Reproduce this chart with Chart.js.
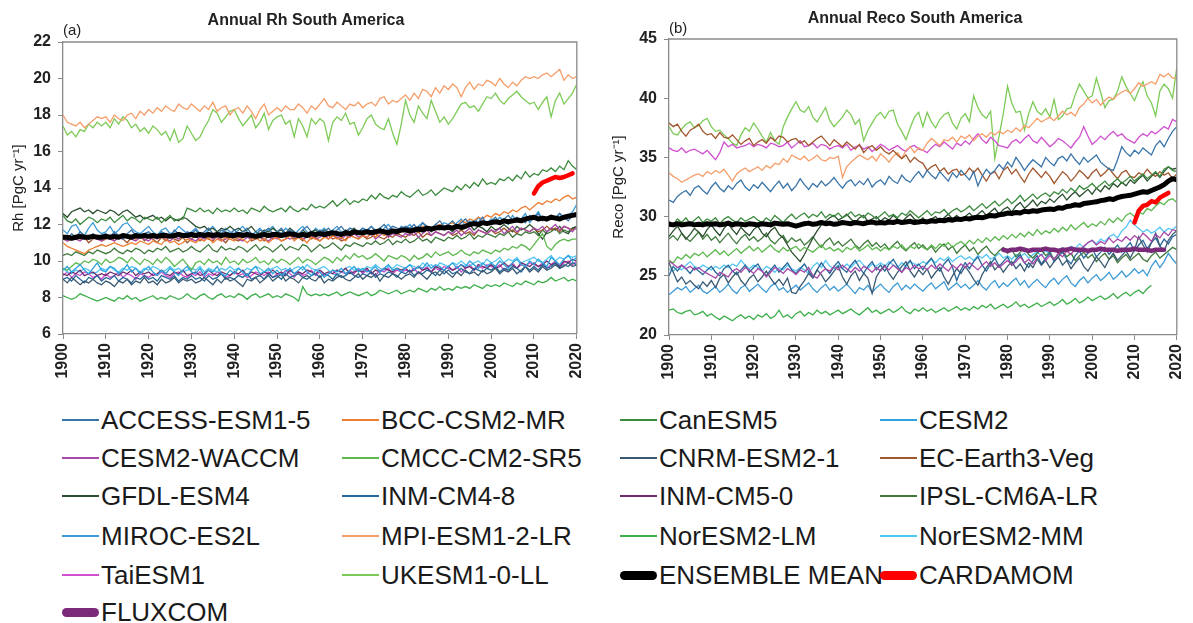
<!DOCTYPE html>
<html><head><meta charset="utf-8">
<script src="https://cdn.jsdelivr.net/npm/chart.js@4.4.1/dist/chart.umd.min.js"></script>
<style>
html,body{margin:0;padding:0;background:#fff;overflow:hidden;width:1193px;height:623px;}
#wrap{position:relative;width:1193px;height:623px;font-family:"Liberation Sans",Arial,sans-serif;overflow:hidden;}
canvas{position:absolute;top:0;}
.ttl{position:absolute;font-weight:bold;font-size:16px;color:#222;white-space:nowrap;transform:translateX(-50%);line-height:18px;}
.lab{position:absolute;font-size:15px;color:#222;line-height:16px;}
.lg{position:absolute;height:30px;display:flex;align-items:center;font-size:26px;color:#1a1a1a;white-space:nowrap;}
.sw{width:37px;margin-right:2px;}
</style></head>
<body><div id="wrap">
<canvas id="ca" width="600" height="395" style="left:0"></canvas>
<canvas id="cb" width="600" height="395" style="left:600px"></canvas>
<div class="ttl" style="left:306px;top:11px">Annual Rh South America</div>
<div class="lab" style="left:63px;top:22px">(a)</div>
<div class="ttl" style="left:915px;top:9px">Annual Reco South America</div>
<div class="lab" style="left:669px;top:20px">(b)</div>
<div id="legend"></div>
</div>
<script>
// ---------- categories ----------
const YEARS = [
1900,1901,1902,1903,1904,1905,1906,1907,1908,1909,
1910,1911,1912,1913,1914,1915,1916,1917,1918,1919,
1920,1921,1922,1923,1924,1925,1926,1927,1928,1929,
1930,1931,1932,1933,1934,1935,1936,1937,1938,1939,
1940,1941,1942,1943,1944,1945,1946,1947,1948,1949,
1950,1951,1952,1953,1954,1955,1956,1957,1958,1959,
1960,1961,1962,1963,1964,1965,1966,1967,1968,1969,
1970,1971,1972,1973,1974,1975,1976,1977,1978,1979,
1980,1981,1982,1983,1984,1985,1986,1987,1988,1989,
1990,1991,1992,1993,1994,1995,1996,1997,1998,1999,
2000,2001,2002,2003,2004,2005,2006,2007,2008,2009,
2010,2011,2012,2013,2014,2015,2016,2017,2018,2019,
2020];
const X_TICKS = [1900,1910,1920,1930,1940,1950,1960,1970,1980,1990,2000,2010,2020];
const RH_TICKS = [6,8,10,12,14,16,18,20,22];
const RECO_TICKS = [20,25,30,35,40,45];

// ---------- panel (a) Rh ----------
const rh_ACCESS = [
11.4,11.2,11.5,11.3,11.6,11.4,11.2,11.5,11.3,11.4,
11.5,11.3,11.6,11.4,11.2,11.5,11.7,11.4,11.3,11.5,
11.6,11.4,11.3,11.6,11.5,11.3,11.7,11.5,11.4,11.6,
11.5,11.7,11.4,11.6,11.8,11.5,11.4,11.7,11.6,11.5,
11.7,11.5,11.6,11.8,11.5,11.4,11.7,11.6,11.8,11.5,
11.6,11.8,11.5,11.7,11.6,11.4,11.7,11.9,11.6,11.5,
11.7,11.6,11.8,11.5,11.7,11.9,11.6,11.8,11.7,11.6,
11.8,11.7,11.9,11.6,11.8,12.0,11.7,11.9,11.8,11.7,
11.9,11.8,12.0,11.7,12.1,11.9,11.8,12.0,12.2,11.9,
12.0,12.2,11.9,12.1,12.3,12.0,12.2,12.1,12.4,12.0,
12.2,12.4,12.1,12.3,12.5,12.2,12.4,12.3,12.1,12.5,
12.3,12.6,12.2,12.4,12.5,12.3,12.6,12.4,12.2,12.5,
12.6];
const rh_BCC = [
11.0,10.8,10.7,10.6,10.5,10.4,10.6,10.7,10.8,10.9,
10.8,10.9,11.0,10.9,10.8,10.9,11.0,10.9,11.1,11.0,
10.9,11.1,11.0,10.9,11.2,11.0,11.1,10.9,11.0,11.2,
11.1,11.0,11.2,11.1,11.3,11.0,11.2,11.1,11.3,11.2,
11.1,11.3,11.2,11.0,11.2,11.3,11.1,11.2,11.0,11.2,
11.3,11.1,11.2,11.4,11.1,11.3,11.2,11.0,11.3,11.2,
11.1,11.3,11.2,11.4,11.2,11.3,11.1,11.4,11.3,11.2,
11.4,11.3,11.5,11.3,11.6,11.4,11.5,11.7,11.5,11.6,
11.7,11.6,11.8,11.7,11.9,11.8,11.7,11.9,12.0,11.9,
12.0,12.1,11.9,12.2,12.1,12.3,12.2,12.4,12.3,12.5,
12.4,12.6,12.5,12.7,12.6,12.8,12.7,12.9,13.0,12.8,
13.0,13.2,13.1,13.3,13.2,13.4,13.3,13.5,13.6,13.4,
13.5];
const rh_CanESM5 = [
12.5,12.2,12.1,12.3,12.0,12.2,12.4,12.3,12.1,12.3,
12.2,12.4,12.1,12.3,12.5,12.2,12.4,12.3,12.1,12.4,
12.3,12.2,12.4,12.1,12.3,12.5,12.2,12.3,12.3,12.9,
12.8,12.7,12.9,12.7,12.8,12.6,12.9,12.7,12.8,12.7,
12.9,12.7,12.8,12.6,12.9,12.8,12.7,13.0,12.8,12.7,
12.8,12.9,12.7,13.0,12.8,12.7,12.9,12.8,13.1,12.9,
13.0,12.9,13.1,13.3,13.0,13.2,13.4,13.1,13.3,13.2,
13.4,13.3,13.6,13.4,13.7,13.5,13.4,13.6,13.5,13.8,
13.6,13.5,13.7,13.9,13.6,13.7,13.9,13.6,13.8,14.0,
13.9,13.8,14.1,13.9,14.2,14.0,14.3,14.1,14.5,14.2,
14.3,14.2,14.5,14.4,14.6,14.4,14.7,14.5,14.9,14.6,
14.8,14.7,15.0,14.9,15.1,14.9,15.2,15.0,15.5,15.2,
15.0];
const rh_CESM2 = [
9.5,9.7,9.4,9.6,9.8,9.5,9.3,9.6,9.9,9.5,
9.4,9.7,9.6,9.3,9.5,9.8,9.4,9.6,9.3,9.5,
9.7,9.4,9.2,9.5,9.3,9.6,9.4,9.2,9.5,9.7,
9.4,9.3,9.6,9.2,9.5,9.4,9.7,9.3,9.2,9.5,
9.3,9.6,9.4,9.2,9.5,9.7,9.3,9.4,9.6,9.3,
9.5,9.2,9.4,9.6,9.3,9.5,9.7,9.4,9.2,9.5,
9.4,9.1,9.3,9.5,9.4,9.6,9.3,9.5,9.7,9.4,
9.6,9.4,9.5,9.7,9.4,9.6,9.8,9.5,9.6,9.4,
9.6,9.8,9.5,9.7,9.6,9.9,9.6,9.8,9.7,9.5,
9.7,9.9,9.6,9.8,9.7,10.0,9.8,9.6,9.9,9.7,
9.9,9.7,10.0,9.8,9.6,9.9,10.1,9.8,9.7,10.0,
9.8,10.1,9.9,9.7,10.2,10.0,9.8,10.1,10.3,10.0,
10.2];
const rh_WACCM = [
11.2,11.1,11.3,11.2,11.1,11.3,11.2,11.4,11.2,11.1,
11.3,11.2,11.1,11.3,11.2,11.4,11.2,11.1,11.3,11.2,
11.1,11.3,11.2,11.4,11.2,11.1,11.3,11.2,11.4,11.3,
11.2,11.1,11.3,11.2,11.4,11.2,11.3,11.1,11.2,11.4,
11.3,11.2,11.1,11.3,11.2,11.4,11.3,11.2,11.1,11.3,
11.2,11.4,11.3,11.2,11.3,11.5,11.2,11.3,11.4,11.2,
11.3,11.5,11.2,11.4,11.3,11.2,11.4,11.3,11.5,11.3,
11.4,11.3,11.5,11.2,11.4,11.6,11.3,11.5,11.4,11.3,
11.5,11.4,11.6,11.3,11.5,11.7,11.4,11.6,11.5,11.4,
11.6,11.5,11.7,11.4,11.6,11.8,11.5,11.7,11.6,11.5,
11.7,11.6,11.8,11.5,11.7,11.9,11.6,11.8,11.7,11.6,
11.8,11.7,11.9,11.6,11.8,12.0,11.7,11.9,11.8,11.6,
11.9];
const rh_CMCC = [
9.6,9.5,9.7,9.9,9.8,10.0,9.9,10.1,10.0,9.8,
10.1,9.9,10.0,10.2,10.1,9.9,10.2,10.0,9.8,10.1,
10.0,9.8,10.1,9.9,10.2,10.0,9.7,9.9,10.1,9.8,
9.5,9.9,10.0,9.8,10.1,9.9,10.0,9.8,10.2,9.9,
10.0,9.8,10.1,9.9,10.0,10.2,9.9,10.0,9.8,10.1,
9.9,10.1,10.0,9.8,10.0,10.2,9.9,10.1,10.0,9.8,
10.0,10.2,10.1,9.9,10.2,10.0,10.3,10.1,10.4,10.2,
10.3,10.1,10.2,10.4,10.2,10.0,10.3,10.2,10.1,10.3,
10.2,10.0,10.3,10.1,10.2,10.4,10.2,10.5,10.3,10.4,
10.5,10.3,10.4,10.6,10.4,10.3,10.5,10.4,10.6,10.5,
10.4,10.6,10.5,10.7,10.6,10.8,10.7,10.9,10.8,10.6,
10.9,11.2,11.5,10.8,10.6,10.9,11.1,11.2,11.1,11.2,
11.2];
const rh_CNRM = [
9.0,8.8,9.1,8.9,8.7,8.9,8.8,9.0,8.8,8.7,
8.9,8.8,8.6,8.9,8.8,9.0,8.7,8.9,8.8,9.1,
8.8,8.9,8.7,9.0,8.8,8.9,9.1,8.8,9.0,8.9,
9.0,8.8,8.9,9.1,8.9,8.7,9.0,8.8,9.1,8.9,
9.0,8.8,8.6,9.0,8.9,9.1,8.8,9.0,9.2,8.9,
9.1,9.3,8.9,9.1,9.0,8.8,9.1,9.2,9.0,8.9,
9.2,8.8,9.0,8.9,9.1,9.2,9.0,8.9,9.1,9.3,
9.0,9.2,9.1,9.3,8.9,9.2,9.1,9.3,9.2,9.0,
9.2,9.3,9.1,9.4,9.2,9.0,9.3,9.4,9.2,9.5,
9.3,9.1,9.4,9.2,9.5,9.3,9.4,9.2,9.5,9.3,
9.4,9.6,9.3,9.5,9.4,9.6,9.3,9.5,9.7,9.4,
9.6,9.4,9.7,9.5,9.6,9.8,9.6,9.7,9.9,9.7,
9.8];
const rh_ECEarth = [
11.3,11.1,11.2,11.4,11.2,11.3,11.0,11.2,11.4,11.1,
11.2,11.4,11.1,11.3,11.2,11.0,11.3,11.2,11.4,11.1,
11.3,11.2,11.0,11.3,11.1,11.4,11.2,11.1,11.3,11.0,
11.2,11.4,11.1,11.3,11.2,11.1,11.4,11.2,11.0,11.3,
11.2,11.1,11.3,11.4,11.1,11.2,11.3,11.1,11.4,11.2,
11.3,11.1,11.2,11.4,11.2,11.3,11.1,11.4,11.2,11.3,
11.1,11.3,11.4,11.2,11.3,11.1,11.2,11.4,11.3,11.2,
11.4,11.2,11.3,11.5,11.3,11.2,11.4,11.3,11.5,11.4,
11.3,11.5,11.4,11.6,11.3,11.5,11.4,11.6,11.5,11.4,
11.6,11.4,11.5,11.7,11.5,11.6,11.4,11.7,11.6,11.5,
11.7,11.5,11.6,11.8,11.6,11.7,11.5,11.8,11.7,11.6,
11.8,11.6,11.7,11.9,11.7,11.8,11.6,11.9,11.8,11.7,
11.8];
const rh_GFDL = [
12.6,12.4,12.7,12.8,12.9,12.7,12.8,12.6,12.8,12.7,
12.6,12.8,12.7,12.5,12.7,12.8,12.6,12.4,12.5,12.3,
12.4,12.5,12.3,12.4,12.2,12.4,12.3,12.2,12.4,12.3,
12.1,11.9,11.8,11.9,11.7,11.8,11.6,11.8,11.7,11.9,
11.7,11.8,11.6,11.7,11.9,11.6,11.5,11.7,11.6,11.8,
11.6,11.7,11.5,11.8,11.6,11.4,11.7,11.5,11.6,11.7,
11.5,11.7,11.6,11.4,11.6,11.5,11.7,11.6,11.8,11.5,
11.6,11.7,11.5,11.6,11.8,11.6,11.5,11.7,11.6,11.8,
11.7,11.5,11.8,11.6,11.7,11.9,11.6,11.8,11.7,11.9,
11.8,11.6,11.9,11.7,11.8,12.0,11.7,11.9,11.8,11.6,
11.9,11.7,11.8,12.0,11.8,11.6,11.9,11.7,11.8,12.0,
11.8,11.5,11.2,11.6,11.8,11.7,11.9,11.6,11.5,11.8,
11.9];
const rh_INM48 = [
9.0,9.1,8.9,9.2,9.0,8.8,9.1,9.0,9.2,8.9,
9.1,9.0,9.2,8.9,9.1,9.0,8.8,9.1,9.0,9.2,
9.0,9.1,8.9,9.2,9.1,9.0,9.2,8.9,9.1,9.0,
9.2,9.0,9.1,8.9,9.2,9.0,9.1,9.3,9.0,9.1,
9.0,9.2,9.1,9.3,9.0,9.1,9.2,9.0,9.3,9.1,
9.2,9.0,9.3,9.1,9.2,9.3,9.1,9.0,9.2,9.3,
9.1,9.3,9.2,9.0,9.3,9.1,9.2,9.4,9.2,9.1,
9.3,9.2,9.4,9.1,9.3,9.2,9.4,9.3,9.1,9.4,
9.3,9.5,9.2,9.4,9.3,9.5,9.4,9.2,9.5,9.3,
9.5,9.3,9.4,9.6,9.4,9.3,9.6,9.5,9.4,9.6,
9.5,9.7,9.4,9.6,9.5,9.7,9.6,9.4,9.7,9.5,
9.7,9.5,9.8,9.6,9.7,9.9,9.6,9.8,9.7,9.9,
9.8];
const rh_INM50 = [
9.3,9.2,9.4,9.3,9.5,9.2,9.3,9.4,9.2,9.3,
9.2,9.4,9.3,9.2,9.4,9.3,9.5,9.2,9.4,9.3,
9.4,9.2,9.3,9.5,9.3,9.2,9.4,9.3,9.5,9.2,
9.3,9.4,9.2,9.3,9.5,9.3,9.2,9.4,9.3,9.2,
9.4,9.3,9.5,9.2,9.4,9.3,9.2,9.4,9.3,9.5,
9.3,9.4,9.2,9.5,9.3,9.4,9.3,9.5,9.4,9.3,
9.5,9.3,9.4,9.3,9.5,9.4,9.6,9.3,9.4,9.5,
9.4,9.6,9.3,9.5,9.4,9.6,9.5,9.4,9.6,9.5,
9.6,9.4,9.5,9.7,9.5,9.6,9.4,9.7,9.6,9.5,
9.7,9.5,9.6,9.8,9.6,9.7,9.5,9.8,9.7,9.6,
9.8,9.6,9.7,9.9,9.7,9.8,9.6,9.9,9.8,9.7,
9.9,9.7,9.8,10.0,9.8,9.9,9.7,10.0,9.9,10.1,
10.0];
const rh_IPSL = [
10.3,10.4,10.3,10.5,10.4,10.3,10.5,10.4,10.6,10.5,
10.4,10.5,10.7,10.5,10.4,10.6,10.5,10.7,10.6,10.4,
10.6,10.5,10.7,10.6,10.8,10.5,10.6,10.7,10.5,10.6,
10.8,10.6,10.5,10.7,10.9,10.6,10.5,10.8,10.6,10.7,
10.6,10.8,10.7,10.5,10.7,10.9,10.6,10.8,10.7,10.5,
10.7,10.9,10.6,10.8,10.7,10.6,10.9,10.8,10.5,10.7,
10.9,10.7,10.8,11.0,10.8,10.6,10.9,10.8,11.0,10.9,
10.8,11.0,10.9,11.1,10.9,11.0,11.2,10.9,11.1,11.0,
11.2,11.0,11.1,11.3,11.1,11.2,11.0,11.3,11.2,11.1,
11.3,11.2,11.4,11.2,11.3,11.5,11.2,11.4,11.3,11.5,
11.4,11.3,11.5,11.4,11.6,11.3,11.5,11.4,11.6,11.5,
11.6,11.4,11.7,11.5,11.6,11.8,11.5,11.7,11.6,11.8,
11.8];
const rh_MIROC = [
11.7,11.5,11.9,12.0,11.6,11.4,11.8,12.1,11.7,11.5,
11.6,11.9,11.5,11.7,12.0,12.1,11.8,11.6,11.5,11.7,
11.9,11.6,11.4,11.7,11.8,11.5,11.6,11.9,11.7,11.5,
11.6,11.8,11.5,11.4,11.7,11.9,11.6,11.5,11.8,11.6,
11.5,11.7,11.9,11.6,11.4,11.6,11.8,11.5,11.7,11.9,
11.6,11.5,11.8,11.6,11.4,11.7,11.9,11.6,11.5,11.8,
11.6,11.8,11.5,11.7,11.9,11.6,11.5,11.8,11.7,11.6,
11.8,11.6,11.9,11.7,11.5,11.8,12.0,11.7,11.6,11.9,
11.8,12.0,11.7,11.9,12.1,11.8,11.7,12.0,11.9,12.1,
12.0,11.8,12.1,12.3,11.9,12.2,12.0,12.4,12.1,12.0,
12.3,12.1,12.4,12.2,12.0,12.5,12.2,12.3,12.6,12.1,
12.4,12.7,12.3,12.2,12.5,12.4,12.6,12.3,12.5,12.7,
13.1];
const rh_MPI = [
18.0,17.6,17.5,17.4,17.6,17.3,17.5,17.7,17.9,17.8,
17.9,17.6,18.0,17.8,17.7,18.0,18.1,17.8,18.2,18.0,
18.3,18.1,18.4,18.2,18.5,18.3,18.2,18.6,18.4,18.3,
18.6,18.4,18.2,18.5,18.3,18.7,18.2,18.4,18.5,18.0,
18.3,18.4,18.1,18.5,18.2,17.8,18.3,18.6,18.0,18.2,
18.4,18.2,18.5,18.3,18.3,18.6,18.4,18.1,18.5,18.3,
18.6,18.9,18.5,18.4,18.7,18.5,18.3,18.6,18.5,18.7,
18.4,18.6,18.7,18.5,18.9,19.0,18.6,18.8,18.7,18.9,
19.1,18.8,19.2,18.9,19.4,19.3,19.0,19.5,19.2,19.6,
19.4,19.7,19.5,19.0,19.5,19.8,19.4,19.7,19.6,19.9,
19.8,19.6,20.0,19.7,19.5,19.8,19.6,19.9,20.1,20.0,
20.1,20.0,20.2,20.3,20.1,20.3,20.5,19.9,20.2,20.0,
20.1];
const rh_NorLM = [
8.1,8.0,7.9,8.0,8.2,8.1,8.0,7.9,7.8,7.9,
8.0,7.9,7.8,8.0,7.9,8.1,7.9,8.0,7.8,7.9,
8.0,8.1,7.9,8.0,7.9,8.1,8.0,7.9,8.0,8.2,
8.0,7.9,8.1,8.2,8.0,7.9,8.1,8.2,8.0,8.1,
8.0,8.2,8.1,7.9,8.1,8.2,8.0,8.1,8.2,8.0,
8.1,8.0,8.2,8.1,8.0,7.8,8.6,8.2,8.1,8.2,
8.1,8.2,8.1,8.2,8.3,8.1,8.2,8.3,8.2,8.1,
8.2,8.3,8.1,8.2,8.4,8.3,8.2,8.3,8.4,8.2,
8.3,8.4,8.3,8.5,8.4,8.3,8.5,8.4,8.6,8.4,
8.5,8.4,8.6,8.5,8.6,8.5,8.7,8.6,8.5,8.7,
8.6,8.7,8.6,8.8,8.7,8.6,8.8,8.7,8.9,8.8,
8.7,8.9,8.8,8.9,9.1,8.9,9.0,9.1,8.9,9.0,
8.9];
const rh_NorMM = [
9.6,9.4,9.3,9.5,9.4,9.6,9.5,9.3,9.4,9.6,
9.5,9.7,9.5,9.4,9.6,9.5,9.7,9.6,9.4,9.6,
9.5,9.7,9.6,9.4,9.5,9.7,9.5,9.6,9.4,9.5,
9.6,9.5,9.7,9.4,9.6,9.5,9.4,9.6,9.5,9.7,
9.5,9.6,9.4,9.6,9.5,9.7,9.6,9.4,9.5,9.6,
9.7,9.5,9.6,9.4,9.6,9.7,9.5,9.8,9.6,9.5,
9.6,9.7,9.5,9.3,9.2,9.4,9.6,9.7,9.5,9.6,
9.5,9.7,9.6,9.8,9.6,9.5,9.7,9.6,9.8,9.7,
9.6,9.8,9.7,9.6,9.9,9.7,9.8,9.6,9.9,9.8,
9.7,9.9,9.8,10.0,9.8,9.7,9.9,10.0,9.8,10.1,
9.9,10.0,10.2,9.9,10.1,10.0,10.2,9.9,10.0,10.1,
10.2,10.0,9.9,10.1,10.3,10.0,10.2,10.1,10.3,10.2,
10.3];
const rh_Tai = [
9.2,9.4,9.1,9.3,9.2,9.4,9.3,9.1,9.2,9.0,
9.3,9.1,9.2,9.4,9.1,9.3,9.2,9.0,9.3,9.2,
9.1,9.3,9.2,9.4,9.2,9.1,9.3,9.4,9.2,9.1,
9.3,9.2,9.4,9.1,9.3,9.2,9.4,9.3,9.1,9.2,
9.4,9.2,9.3,9.1,9.2,9.4,9.3,9.2,9.4,9.1,
9.3,9.2,9.5,9.3,9.1,9.4,9.2,9.3,9.5,9.2,
9.4,9.2,9.3,9.5,9.2,9.4,9.3,9.5,9.3,9.6,
9.3,9.5,9.4,9.2,9.5,9.4,9.6,9.3,9.5,9.4,
9.5,9.4,9.6,9.3,9.5,9.7,9.4,9.6,9.5,9.7,
9.6,9.5,9.7,9.4,9.6,9.8,9.5,9.7,9.6,9.8,
9.7,9.6,9.8,9.5,9.7,9.9,9.6,9.8,9.7,9.9,
9.8,9.7,9.9,9.6,9.8,10.0,9.7,9.9,10.0,9.8,
10.0];
const rh_UKESM = [
17.4,16.9,17.1,16.8,17.2,17.1,17.5,17.3,17.6,17.4,
17.6,17.3,17.8,17.5,17.9,17.7,17.3,17.5,17.1,17.3,
17.0,17.4,17.2,16.9,17.1,16.6,17.2,16.5,16.7,17.4,
17.0,16.6,16.8,17.3,17.7,18.3,18.1,17.6,17.9,18.2,
18.3,17.8,17.4,17.7,18.0,17.3,17.6,18.1,17.2,17.7,
17.9,18.0,17.5,17.7,16.8,17.8,17.4,16.8,17.8,17.5,
17.8,17.6,16.6,17.6,17.9,17.7,18.1,17.5,17.6,16.9,
17.3,17.8,18.0,17.5,17.3,17.2,17.8,17.0,16.4,17.5,
18.8,18.0,17.6,18.5,18.1,17.8,18.8,18.2,17.6,17.9,
17.5,17.8,18.2,18.6,18.7,18.4,18.5,18.2,18.6,19.0,
18.9,19.2,18.8,18.6,18.9,19.1,19.3,19.0,18.8,18.6,
18.7,18.3,18.7,19.0,17.9,18.8,19.2,18.6,18.9,19.2,
19.7];
const rh_ENSEMBLE = [
11.3,11.3,11.25,11.3,11.35,11.3,11.3,11.35,11.3,11.3,
11.35,11.3,11.35,11.3,11.4,11.35,11.3,11.4,11.35,11.4,
11.35,11.4,11.35,11.4,11.4,11.35,11.4,11.45,11.4,11.4,
11.45,11.4,11.45,11.4,11.45,11.4,11.45,11.4,11.45,11.4,
11.4,11.45,11.4,11.45,11.4,11.35,11.4,11.45,11.4,11.45,
11.45,11.4,11.45,11.5,11.45,11.4,11.45,11.4,11.5,11.45,
11.5,11.45,11.5,11.55,11.5,11.45,11.55,11.5,11.6,11.55,
11.55,11.6,11.55,11.6,11.65,11.6,11.55,11.65,11.6,11.7,
11.7,11.65,11.7,11.75,11.7,11.8,11.75,11.8,11.85,11.8,
11.85,11.8,11.9,11.85,11.9,12.0,12.05,12.0,12.1,12.05,
12.1,12.15,12.1,12.2,12.15,12.2,12.25,12.2,12.3,12.35,
12.4,12.3,12.35,12.3,12.4,12.35,12.3,12.4,12.45,12.5,
12.55];
const rh_CARDAMOM_START = 2010;
const rh_CARDAMOM = [13.7,14.1,14.3,14.4,14.5,14.6,14.55,14.6,14.7,14.8];

// ---------- panel (b) Reco ----------
const reco_ACCESS = [
31.4,31.2,31.7,32.0,32.2,31.8,32.4,32.6,32.2,31.9,
32.5,32.9,32.4,32.1,32.6,32.3,32.8,33.1,32.5,32.2,
32.7,32.4,32.9,32.5,32.1,32.6,33.0,32.4,32.8,32.2,
32.6,33.2,32.7,32.3,32.8,32.5,33.0,32.6,32.9,33.3,
32.8,32.4,32.9,33.1,32.6,33.0,32.7,33.2,32.5,32.9,
33.1,32.7,33.4,33.0,32.8,33.5,33.1,32.9,33.4,33.8,
33.3,33.9,33.5,33.2,33.8,33.4,33.0,33.7,33.3,33.9,
33.5,33.1,33.8,32.6,33.4,34.0,33.6,33.9,34.4,34.0,
34.6,34.2,35.0,34.5,33.9,34.4,34.8,34.5,34.2,35.0,
34.6,34.3,34.9,35.1,34.7,35.3,34.8,34.4,35.0,34.6,
34.9,35.2,34.6,34.3,34.0,33.9,34.8,35.9,35.4,35.1,
35.6,35.3,35.8,35.5,35.2,36.0,36.4,35.9,36.6,37.2,
37.6];
const reco_CanESM5 = [
29.6,29.3,29.8,29.5,29.9,29.4,29.7,30.0,29.5,29.8,
29.6,29.9,29.4,29.8,30.0,29.7,29.5,29.9,29.6,29.8,
30.0,29.7,29.5,29.9,29.6,30.1,29.8,29.5,29.9,30.2,
29.8,30.1,30.3,29.9,30.2,30.0,30.4,29.9,30.2,30.0,
30.3,29.9,30.1,30.4,30.0,30.2,29.9,30.3,30.1,29.8,
30.1,30.4,30.0,30.2,29.9,30.3,30.1,30.5,30.2,29.9,
30.2,30.5,30.1,30.4,30.3,30.6,30.2,30.5,30.7,30.4,
30.6,30.9,30.5,30.8,31.1,30.7,31.0,31.3,30.9,31.2,
31.5,31.1,31.4,31.8,31.3,31.6,31.9,31.5,31.8,32.0,
31.7,32.1,31.9,32.3,32.0,32.4,32.1,32.6,32.3,32.5,
32.8,32.4,32.7,33.0,32.6,32.9,33.2,32.8,33.1,33.4,
33.0,33.3,33.6,33.2,33.5,33.8,33.4,34.0,34.2,33.9,
33.8];
const reco_WACCM = [
26.2,26.0,25.7,25.9,25.6,25.8,25.5,25.7,25.4,25.2,
25.0,24.8,25.3,25.1,24.9,25.4,25.6,25.3,25.7,25.5,
25.2,25.6,25.4,24.9,25.3,25.7,25.5,25.2,25.6,25.4,
25.1,25.5,25.3,25.7,25.0,24.8,25.3,25.6,25.4,25.8,
25.5,25.9,25.6,25.3,25.7,25.4,25.8,25.6,25.3,25.7,
25.4,25.8,25.5,25.9,25.6,25.3,25.7,25.5,25.9,25.6,
25.8,25.5,25.9,25.6,26.0,25.7,25.4,25.9,25.6,26.0,
25.7,26.1,25.8,25.5,25.9,26.2,25.8,26.1,25.7,26.0,
26.3,25.9,26.2,26.6,26.1,26.4,26.0,26.5,26.8,26.3,
26.7,26.4,26.9,26.6,27.1,26.8,27.3,27.0,27.5,27.8,
28.0,27.6,27.9,27.7,28.2,27.8,28.1,27.9,28.3,28.0,
28.4,28.1,28.6,28.3,27.9,28.5,28.2,28.7,28.4,28.9,
28.8];
const reco_CMCC = [
26.3,26.1,26.6,26.4,26.8,26.5,26.9,26.7,27.0,26.6,
26.9,27.2,26.8,27.1,26.7,27.0,27.3,26.9,27.2,27.5,
27.1,27.4,27.0,27.3,27.6,27.2,27.0,27.4,27.1,27.3,
27.5,27.1,27.4,27.2,27.0,27.3,27.6,27.2,27.4,27.1,
27.3,27.0,27.4,27.2,27.5,27.1,27.3,27.6,27.2,27.4,
27.1,27.4,27.2,27.5,27.3,27.6,27.2,27.5,27.3,27.7,
27.4,27.2,27.6,27.3,27.7,27.5,27.8,27.4,27.7,27.9,
27.6,28.0,27.7,28.1,27.8,28.2,27.9,28.3,28.0,28.4,
28.1,28.5,28.2,28.6,28.3,28.7,28.4,28.9,28.5,28.8,
28.6,29.0,28.7,29.1,28.8,29.3,28.9,29.2,29.5,29.1,
29.4,29.2,29.6,29.3,29.8,29.5,29.9,29.6,30.1,30.3,
30.0,30.4,30.2,30.7,30.5,30.9,31.2,31.0,31.4,31.5,
31.2];
const reco_CNRM = [
26.1,25.3,24.5,24.9,24.3,24.6,24.2,23.9,24.5,24.1,
24.6,24.0,24.8,25.1,24.4,24.9,25.3,24.6,24.2,24.8,
25.1,24.5,24.9,25.4,24.8,24.3,24.7,24.2,24.8,23.6,
23.5,24.1,24.6,25.2,24.8,25.5,25.1,24.5,24.9,25.4,
25.8,24.9,24.3,25.0,25.4,24.6,25.2,24.8,23.5,24.9,
25.5,25.9,25.2,24.7,25.3,25.8,26.2,25.4,24.9,25.5,
25.1,25.6,24.8,25.3,25.7,24.9,24.3,25.0,25.6,25.2,
25.8,25.3,24.7,24.2,25.1,25.7,26.2,25.5,25.9,25.3,
25.8,26.2,25.6,26.0,25.4,26.1,25.7,26.4,25.9,26.3,
25.7,26.2,26.6,25.9,26.3,25.6,26.1,26.5,25.8,25.4,
26.0,26.6,26.2,25.7,26.4,26.9,26.3,26.7,27.1,26.5,
27.2,28.3,27.6,27.0,27.8,28.6,27.5,27.1,28.0,28.5,
28.8];
const reco_ECEarth = [
37.9,37.6,37.8,37.2,36.8,37.3,37.5,37.8,37.2,36.9,
37.0,36.6,37.1,36.7,36.6,36.9,36.5,36.1,36.4,36.6,
36.0,36.3,36.5,36.2,36.7,36.4,36.8,36.7,36.3,36.5,
36.6,36.2,36.4,36.0,36.3,36.6,36.8,36.4,36.0,36.5,
36.2,35.9,36.3,36.0,35.7,36.1,35.4,35.8,36.0,35.6,
35.9,35.5,35.3,35.6,35.2,34.9,35.2,34.6,35.0,34.7,
34.5,33.9,34.2,34.4,33.8,34.1,33.6,33.9,34.0,33.5,
33.6,34.1,33.7,34.1,33.5,33.0,33.6,33.8,33.2,33.9,
34.2,33.6,34.0,33.4,32.9,33.6,34.1,33.7,33.3,33.8,
33.4,32.8,33.3,33.8,33.5,33.0,33.4,33.9,33.6,33.2,
33.7,34.0,33.4,33.7,34.1,33.6,33.2,33.7,33.9,33.4,
33.3,33.7,33.5,34.0,33.6,33.4,33.8,33.5,33.7,33.2,
33.6];
const reco_GFDL = [
28.3,28.8,29.2,28.6,28.1,28.5,29.0,28.7,28.3,28.9,
29.3,28.8,28.4,29.0,29.4,28.9,28.5,29.1,28.7,28.4,
28.9,29.2,28.6,28.3,28.8,29.1,28.5,28.2,27.6,27.0,
26.6,26.2,26.8,27.5,28.2,28.8,29.3,29.6,29.9,30.1,
29.7,29.9,30.2,29.8,29.5,29.9,30.1,29.6,29.8,30.0,
29.6,29.9,29.7,30.1,29.8,29.5,29.9,30.2,29.8,29.6,
29.9,29.5,29.8,30.0,29.6,29.9,30.2,29.8,30.1,29.7,
30.0,30.3,29.9,30.2,30.5,30.1,30.4,30.7,30.2,30.6,
30.8,30.4,30.9,31.2,30.7,31.0,31.4,30.9,31.3,31.1,
31.5,31.2,31.6,31.9,31.4,31.8,32.1,31.7,32.0,32.3,
31.9,32.4,32.1,32.6,32.3,32.8,32.5,32.9,32.6,33.1,
32.8,33.2,33.5,33.0,33.4,33.7,33.3,33.8,34.2,34.0,
34.1];
const reco_INM48 = [
25.0,25.8,25.4,25.9,25.6,25.2,25.7,25.4,25.1,25.5,
25.8,25.3,25.0,25.6,25.9,25.4,25.1,25.5,25.9,25.3,
25.7,26.0,25.4,25.0,25.5,25.9,25.3,25.7,26.1,25.5,
25.2,25.6,26.0,25.4,24.9,25.5,26.1,25.6,25.2,25.8,
26.2,25.6,25.3,25.9,26.3,25.7,25.2,25.8,26.2,25.5,
25.9,25.4,26.0,26.4,25.8,25.3,25.9,26.3,25.6,26.0,
25.5,26.1,26.5,25.8,25.4,26.0,26.4,25.7,24.6,25.5,
26.1,25.6,26.2,26.6,25.9,25.4,26.0,26.5,25.8,26.2,
26.6,25.9,26.4,26.8,26.1,25.7,26.3,26.7,26.0,26.5,
26.9,26.2,26.6,27.0,26.4,26.0,26.7,27.1,26.5,26.9,
27.3,26.6,27.0,27.4,26.8,27.2,27.6,27.0,27.4,27.8,
27.1,27.6,28.0,27.3,27.8,28.2,27.5,28.1,27.7,28.3,
28.5];
const reco_IPSL = [
28.1,28.4,28.0,28.6,28.2,27.9,28.3,28.7,28.1,28.5,
28.0,28.3,27.8,28.2,28.6,28.1,27.7,28.2,28.5,28.0,
28.3,27.9,28.2,28.6,28.0,27.7,28.1,28.4,27.8,28.2,
27.9,28.1,27.6,27.9,28.3,27.8,27.4,27.9,28.2,27.6,
27.9,27.5,27.8,28.1,27.6,27.3,27.7,28.0,27.5,27.8,
27.4,27.7,27.2,27.6,27.9,27.4,27.1,27.5,27.8,27.3,
27.6,27.2,27.5,27.0,27.4,27.7,27.2,27.5,26.9,27.3,
27.6,27.1,27.4,26.8,27.2,27.5,27.0,26.7,27.1,27.4,
26.9,27.2,26.6,27.0,27.3,26.8,26.5,26.9,27.2,26.7,
27.0,26.4,26.8,27.1,26.6,26.9,26.3,26.7,27.0,26.5,
26.8,26.2,26.6,26.9,26.4,26.7,26.1,26.5,26.8,26.3,
26.6,26.9,26.4,26.2,26.7,27.0,26.5,26.8,27.1,27.4,
27.2];
const reco_MIROC = [
23.4,23.7,24.0,23.8,24.1,23.6,23.9,24.2,23.7,23.5,
23.8,24.1,23.6,23.9,24.3,23.8,23.5,24.0,24.2,23.7,
24.0,24.3,23.9,23.6,24.1,24.4,23.8,24.0,23.6,23.9,
24.2,23.8,24.1,24.4,23.9,23.6,24.0,24.3,23.8,24.1,
23.7,24.0,24.3,23.9,23.5,24.0,23.8,24.2,23.6,24.0,
24.3,23.9,23.6,24.1,24.4,23.8,24.2,23.9,24.3,24.0,
23.7,24.1,24.4,23.9,24.2,24.5,23.8,24.1,24.4,24.0,
24.3,23.9,24.2,24.6,24.1,23.8,24.3,24.6,24.0,24.4,
24.1,24.5,24.8,24.2,24.6,24.0,24.4,24.7,24.3,24.0,
24.5,24.8,24.3,24.7,25.0,24.4,24.1,24.6,24.9,24.4,
24.8,25.1,24.6,24.9,25.3,24.7,25.0,25.4,24.9,25.2,
25.6,25.2,25.5,25.0,25.8,26.3,25.7,26.2,26.9,26.4,
26.0];
const reco_MPI = [
33.7,33.4,33.2,32.9,33.1,33.3,33.5,33.6,33.4,33.8,
33.6,33.9,33.7,34.0,33.5,33.0,33.6,33.9,34.1,33.8,
34.0,34.2,33.9,34.3,34.1,34.5,34.4,34.9,34.6,35.2,
35.0,34.8,35.1,34.7,34.9,35.2,34.8,34.7,35.0,34.9,
35.1,33.3,34.2,34.6,34.9,35.2,35.0,34.8,35.1,34.7,
35.3,35.0,34.6,35.1,35.4,34.9,35.6,35.9,35.4,35.8,
35.6,36.2,36.6,36.3,36.0,36.5,36.4,36.7,36.3,36.8,
36.6,36.9,36.4,36.8,37.0,36.7,37.1,36.9,37.2,37.0,
37.3,37.1,37.5,37.2,37.7,37.5,37.9,38.3,38.0,38.2,
38.4,38.1,38.5,38.9,38.6,38.8,38.5,39.2,39.5,40.0,
39.6,39.9,39.4,39.8,40.1,39.9,40.3,40.5,40.7,40.4,
40.8,41.3,41.0,41.2,41.4,41.2,42.0,41.8,42.1,41.7,
41.7];
const reco_NorLM = [
22.1,22.2,21.9,21.8,22.0,22.1,21.7,21.8,22.0,21.6,
21.8,21.5,21.3,21.6,21.4,21.2,21.5,21.7,21.4,21.6,
21.3,21.7,21.5,21.8,21.4,21.6,22.1,21.5,21.7,21.4,
21.8,22.0,21.6,21.9,21.7,22.1,21.8,22.0,21.7,21.9,
22.1,21.8,22.0,22.2,21.9,21.7,22.0,22.3,21.9,22.1,
21.8,22.0,22.2,21.9,22.1,22.4,22.0,21.8,22.2,22.0,
22.3,22.0,22.2,21.9,22.1,22.3,22.0,22.2,22.4,22.1,
22.3,22.1,22.4,22.2,22.5,22.3,22.6,22.2,22.4,22.6,
22.3,22.5,22.8,22.4,22.6,22.3,22.5,22.7,22.4,22.6,
22.8,22.5,22.7,23.0,22.6,22.8,23.1,22.7,22.9,23.2,
22.9,23.1,23.3,23.0,23.2,23.5,23.1,23.4,23.6,23.3,
23.6,23.8,23.5,23.9,24.2];
const reco_NorMM = [
25.6,25.4,25.7,25.5,25.9,26.2,25.8,25.6,25.9,25.7,
25.5,25.8,25.6,25.9,25.7,26.0,25.8,26.3,25.9,25.6,
25.9,25.7,25.4,25.8,25.6,25.3,25.7,25.5,25.9,25.6,
25.4,25.7,25.5,25.2,25.8,26.1,25.7,26.3,25.8,25.6,
25.9,25.6,26.0,25.7,26.1,26.3,25.9,25.6,26.0,25.8,
26.1,25.8,26.2,25.9,25.7,26.1,25.8,26.2,26.0,25.9,
26.2,26.0,26.4,26.1,26.5,26.3,26.6,26.2,26.5,26.7,
26.4,26.6,26.3,26.7,26.5,26.8,26.4,26.6,26.9,26.5,
26.7,26.4,26.8,26.6,26.9,26.5,26.8,27.0,26.7,27.1,
26.9,27.2,27.0,27.4,27.1,27.5,27.3,27.7,27.4,27.8,
28.0,27.7,28.1,27.9,28.3,28.5,28.2,28.8,29.1,29.7,
29.3,29.0,28.7,28.9,28.6,28.8,29.1,28.7,29.0,28.9,
29.2];
const reco_Tai = [
35.8,35.6,35.5,35.8,35.4,35.6,35.7,35.5,35.3,35.6,
35.2,34.8,35.4,36.3,35.9,36.1,35.8,35.9,36.0,36.2,
35.9,36.1,36.0,35.8,36.2,36.1,35.9,36.0,36.3,35.8,
36.1,36.4,35.9,36.0,36.2,35.8,36.1,36.0,35.7,35.9,
36.0,35.8,36.1,35.6,35.9,36.0,35.7,35.9,35.5,35.8,
36.1,35.9,35.6,35.8,36.0,35.7,35.5,35.9,36.0,35.7,
35.6,35.4,35.8,36.1,35.9,36.3,36.0,35.7,36.2,36.0,
36.4,36.1,36.6,37.0,36.5,36.2,36.7,36.4,36.0,35.9,
35.8,36.3,36.5,36.2,36.6,36.9,36.4,36.2,36.7,36.3,
35.9,36.2,36.6,36.4,36.1,35.8,36.3,36.7,37.6,36.8,
36.1,36.4,36.8,36.5,36.9,37.2,36.8,37.0,36.6,36.4,
36.2,36.7,37.0,36.8,37.2,37.0,37.3,37.6,37.4,38.2,
38.0];
const reco_UKESM = [
37.6,37.0,36.9,37.4,37.8,38.0,37.5,37.7,38.1,38.3,
37.6,37.2,37.3,36.9,36.6,36.2,36.0,36.9,37.5,37.2,
37.9,37.4,36.8,36.3,37.1,36.4,36.1,37.6,38.4,39.1,
39.7,39.0,38.8,39.3,38.4,38.0,38.6,39.2,38.1,37.6,
38.0,38.4,39.0,38.6,37.8,38.2,36.4,37.3,37.9,38.5,
38.8,38.3,38.9,39.0,37.8,37.2,36.5,37.5,38.4,38.8,
37.6,38.8,38.0,37.5,38.2,38.6,38.8,37.9,37.4,38.3,
38.7,38.0,40.2,39.2,38.6,38.3,38.9,34.9,36.8,38.7,
41.0,39.6,38.8,38.9,37.3,38.7,39.7,38.9,38.6,39.1,
38.4,39.9,38.2,38.5,39.1,39.2,40.3,41.2,40.6,40.0,
40.2,41.7,40.5,39.2,39.8,39.9,40.6,41.8,41.0,40.4,
39.8,40.7,41.4,40.2,39.6,38.5,40.6,41.2,40.8,40.0,
42.6];
const reco_ENSEMBLE = [
29.35,29.3,29.4,29.3,29.35,29.4,29.3,29.35,29.3,29.4,
29.35,29.4,29.3,29.35,29.45,29.3,29.4,29.35,29.3,29.4,
29.35,29.3,29.4,29.35,29.3,29.45,29.4,29.35,29.4,29.3,
29.2,29.3,29.4,29.45,29.35,29.4,29.5,29.4,29.45,29.35,
29.4,29.5,29.45,29.4,29.5,29.45,29.4,29.5,29.55,29.45,
29.5,29.45,29.55,29.5,29.6,29.5,29.55,29.6,29.5,29.55,
29.6,29.55,29.65,29.6,29.7,29.65,29.75,29.7,29.8,29.75,
29.85,29.8,29.9,29.95,29.9,30.0,30.1,30.05,30.15,30.2,
30.3,30.25,30.35,30.3,30.45,30.4,30.5,30.45,30.55,30.6,
30.65,30.6,30.75,30.7,30.85,30.9,31.0,30.95,31.1,31.15,
31.2,31.25,31.35,31.4,31.5,31.45,31.6,31.7,31.75,31.8,
31.9,32.0,32.1,32.05,32.2,32.35,32.5,32.7,33.0,33.2,
33.1];
const reco_CARDAMOM_START = 2010;
const reco_CARDAMOM = [29.5,30.5,30.9,31.0,31.3,31.2,31.6,31.8,32.0];
const reco_FLUXCOM_START = 1979;
const reco_FLUXCOM = [
27.2,27.1,27.2,27.2,27.3,27.2,27.1,27.2,27.2,27.2,
27.3,27.2,27.2,27.1,27.2,27.2,27.3,27.2,27.2,27.2,
27.1,27.2,27.2,27.3,27.2,27.2,27.2,27.1,27.2,27.2,
27.2,27.3,27.2,27.2,27.2,27.1,27.2,27.2,27.2];

// ---------- legend / series styling ----------
const NAMES = ['ACCESS-ESM1-5','BCC-CSM2-MR','CanESM5','CESM2','CESM2-WACCM','CMCC-CM2-SR5','CNRM-ESM2-1','EC-Earth3-Veg',
 'GFDL-ESM4','INM-CM4-8','INM-CM5-0','IPSL-CM6A-LR','MIROC-ES2L','MPI-ESM1-2-LR','NorESM2-LM','NorESM2-MM',
 'TaiESM1','UKESM1-0-LL','ENSEMBLE MEAN','CARDAMOM','FLUXCOM'];
const COLORS = ['#3A74A8','#ED7D31','#3C8A3E','#2EA3DD','#A848A8','#5DB84E','#3A5A73','#A0572E',
 '#2B4F2F','#25679A','#6E2C6E','#3F7A3C','#3C9AD6','#F59E6A','#3DAF4A','#55C6F3',
 '#CF4FCF','#7DCB57','#000000','#FF0000','#7A2A78'];
const THICK = ['ENSEMBLE MEAN','CARDAMOM','FLUXCOM'];

const RH_SERIES = {
 'ACCESS-ESM1-5':rh_ACCESS,'BCC-CSM2-MR':rh_BCC,'CanESM5':rh_CanESM5,'CESM2':rh_CESM2,'CESM2-WACCM':rh_WACCM,
 'CMCC-CM2-SR5':rh_CMCC,'CNRM-ESM2-1':rh_CNRM,'EC-Earth3-Veg':rh_ECEarth,'GFDL-ESM4':rh_GFDL,'INM-CM4-8':rh_INM48,
 'INM-CM5-0':rh_INM50,'IPSL-CM6A-LR':rh_IPSL,'MIROC-ES2L':rh_MIROC,'MPI-ESM1-2-LR':rh_MPI,'NorESM2-LM':rh_NorLM,
 'NorESM2-MM':rh_NorMM,'TaiESM1':rh_Tai,'UKESM1-0-LL':rh_UKESM};
const RECO_SERIES = {
 'ACCESS-ESM1-5':reco_ACCESS,'CanESM5':reco_CanESM5,'CESM2-WACCM':reco_WACCM,'CMCC-CM2-SR5':reco_CMCC,
 'CNRM-ESM2-1':reco_CNRM,'EC-Earth3-Veg':reco_ECEarth,'GFDL-ESM4':reco_GFDL,'INM-CM4-8':reco_INM48,
 'IPSL-CM6A-LR':reco_IPSL,'MIROC-ES2L':reco_MIROC,'MPI-ESM1-2-LR':reco_MPI,'NorESM2-LM':reco_NorLM,
 'NorESM2-MM':reco_NorMM,'TaiESM1':reco_Tai,'UKESM1-0-LL':reco_UKESM};

function pts(vals, start){
  const i0 = YEARS.indexOf(start);
  return vals.map((v,i)=>({x:YEARS[i0+i], y:v}));
}
function colorOf(n){ return COLORS[NAMES.indexOf(n)]; }
function modelSets(series){
  return Object.keys(series).map(n=>({label:n,data:pts(series[n],YEARS[0]),borderColor:colorOf(n),
    borderWidth:1.3,pointRadius:0,tension:0,order:1,fill:false}));
}
function thickSet(n,vals,start,w){
  return {label:n,data:pts(vals,start),borderColor:colorOf(n),borderWidth:w,pointRadius:0,tension:0,order:0,
    borderCapStyle:'round',borderJoinStyle:'round',fill:false};
}

Chart.defaults.font.family = '"Liberation Sans", Arial, sans-serif';
Chart.defaults.color = '#222';
const AX = '#8a8a8a';
const frame = {id:'frame', afterDatasetsDraw(c){
  const {ctx, chartArea:a} = c; ctx.save(); ctx.strokeStyle=AX; ctx.lineWidth=1.3;
  ctx.beginPath(); ctx.moveTo(a.left,a.top); ctx.lineTo(a.right,a.top); ctx.lineTo(a.right,a.bottom); ctx.stroke(); ctx.restore();
}};

function makeChart(id, datasets, yMin, yMax, yTicks, yTitle, yW, pad, plotH){
  return new Chart(document.getElementById(id), {
    type:'line',
    data:{datasets},
    plugins:[frame],
    options:{
      responsive:false, animation:false, devicePixelRatio:1,
      layout:{padding:pad},
      plugins:{legend:{display:false}, tooltip:{enabled:false}},
      scales:{
        x:{type:'linear', min:X_TICKS[0], max:X_TICKS[X_TICKS.length-1],
           afterBuildTicks(s){ s.ticks = X_TICKS.map(v=>({value:v})); },
           afterFit(s){ s.height = 395 - pad.top - plotH; },
           ticks:{autoSkip:false, maxRotation:90, minRotation:90, padding:4,
             font:{size:16, weight:'bold'}, color:'#222', callback:v=>String(v)},
           grid:{drawOnChartArea:false, drawTicks:true, tickLength:5, tickColor:AX},
           border:{color:AX, width:1.3}},
        y:{min:yMin, max:yMax,
           afterBuildTicks(s){ s.ticks = yTicks.map(v=>({value:v})); },
           afterFit(s){ s.width = yW; },
           ticks:{padding:7, font:{size:16, weight:'bold'}, color:'#222'},
           grid:{drawOnChartArea:false, drawTicks:true, tickLength:5, tickColor:AX},
           border:{color:AX, width:1.3},
           title:{display:true, text:yTitle, font:{size:15}, color:'#222', padding:{top:10,bottom:0}}}
      }
    }
  });
}

const dsA = modelSets(RH_SERIES).concat([
  thickSet('ENSEMBLE MEAN', rh_ENSEMBLE, YEARS[0], 5),
  thickSet('CARDAMOM', rh_CARDAMOM, rh_CARDAMOM_START, 4.5)]);
const dsB = modelSets(RECO_SERIES).concat([
  thickSet('ENSEMBLE MEAN', reco_ENSEMBLE, YEARS[0], 5),
  thickSet('CARDAMOM', reco_CARDAMOM, reco_CARDAMOM_START, 4.5),
  thickSet('FLUXCOM', reco_FLUXCOM, reco_FLUXCOM_START, 4.5)]);

makeChart('ca', dsA, 6, 22, RH_TICKS, 'Rh [PgC yr\u207B\u00B9]', 63, {top:42,right:19,left:0,bottom:0}, 292);
makeChart('cb', dsB, 20, 45, RECO_TICKS, 'Reco [PgC yr\u207B\u00B9]', 69, {top:39,right:12,left:0,bottom:0}, 296);

// ---------- HTML legend ----------
const LEG_COLS = [62, 342, 620, 880];
const LEG_ROWS = [420, 458, 496, 536, 575, 612];
const leg = document.getElementById('legend');
NAMES.forEach((n,i)=>{
  const r = Math.floor(i/4), c = i%4;
  const d = document.createElement('div');
  d.className='lg';
  d.style.left = LEG_COLS[c]+'px';
  d.style.top = (LEG_ROWS[r]-15)+'px';
  const sw = document.createElement('div');
  sw.className='sw';
  const thick = THICK.includes(n);
  sw.style.height = thick ? '9px' : '2px';
  sw.style.borderRadius = thick ? '4.5px' : '0';
  sw.style.background = colorOf(n);
  d.appendChild(sw);
  const t = document.createElement('span'); t.textContent = n; d.appendChild(t);
  leg.appendChild(d);
});
</script>
</body></html>
